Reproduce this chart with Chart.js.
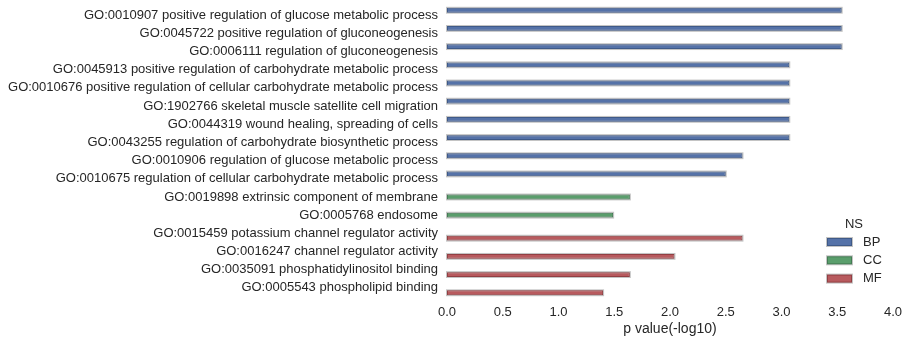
<!DOCTYPE html>
<html>
<head>
<meta charset="utf-8">
<script src="https://cdn.jsdelivr.net/npm/chart.js@4/dist/chart.umd.min.js"></script>
<style>
  html, body { margin: 0; padding: 0; background: #fff; }
  #wrap { width: 910px; height: 345px; }
</style>
</head>
<body>
<div id="wrap"><canvas id="go-chart"></canvas></div>
<script>
// GO terms, top to bottom
const terms = [
    'GO:0010907 positive regulation of glucose metabolic process',
    'GO:0045722 positive regulation of gluconeogenesis',
    'GO:0006111 regulation of gluconeogenesis',
    'GO:0045913 positive regulation of carbohydrate metabolic process',
    'GO:0010676 positive regulation of cellular carbohydrate metabolic process',
    'GO:1902766 skeletal muscle satellite cell migration',
    'GO:0044319 wound healing, spreading of cells',
    'GO:0043255 regulation of carbohydrate biosynthetic process',
    'GO:0010906 regulation of glucose metabolic process',
    'GO:0010675 regulation of cellular carbohydrate metabolic process',
    'GO:0019898 extrinsic component of membrane',
    'GO:0005768 endosome',
    'GO:0015459 potassium channel regulator activity',
    'GO:0016247 channel regulator activity',
    'GO:0035091 phosphatidylinositol binding',
    'GO:0005543 phospholipid binding'
];

// namespace of each term
const termNs = ['BP', 'BP', 'BP', 'BP', 'BP', 'BP', 'BP', 'BP', 'BP', 'BP',
                'CC', 'CC', 'MF', 'MF', 'MF', 'MF'];

// -log10(p)
const pValues = [3.54, 3.54, 3.54, 3.07, 3.07, 3.07, 3.07, 3.07, 2.65, 2.50,
                 1.64, 1.49, 2.65, 2.04, 1.64, 1.40];

const namespaces = ['BP', 'CC', 'MF'];
const nsColors = ['#5572a8', '#5a9e6c', '#b85a5e'];
const nsEdges = ['#3f5a88', '#447c54', '#923f43'];

const xTicks = [0, 0.5, 1, 1.5, 2, 2.5, 3, 3.5, 4];

const fontFamily = '"Liberation Sans", Arial, sans-serif';
const textColor = '#262626';
const haloColor = '#c4c4c4';

// one dataset per namespace, empty slots left as null so the bars keep their hue offset
const datasets = namespaces.map((ns, i) => ({
    label: ns,
    data: pValues.map((v, j) => termNs[j] === ns ? v : null),
    backgroundColor: nsColors[i],
    borderColor: nsEdges[i],
    borderWidth: 1,
    borderSkipped: false,
    categoryPercentage: 0.8,
    barPercentage: 1.0
}));

// light grey outline behind each bar
const barHalo = {
    id: 'barHalo',
    beforeDatasetsDraw(chart) {
        const ctx = chart.ctx;
        ctx.save();
        ctx.fillStyle = haloColor;
        chart.data.datasets.forEach((ds, i) => {
            chart.getDatasetMeta(i).data.forEach((bar, j) => {
                if (ds.data[j] == null) return;
                const p = bar.getProps(['x', 'y', 'base', 'height'], true);
                const top = p.y - p.height / 2;
                ctx.fillRect(p.base - 1, top - 1, p.x - p.base + 2, p.height + 2);
            });
        });
        ctx.restore();
    }
};

// legend drawn inside the plot, lower right
const nsLegend = {
    id: 'nsLegend',
    afterDraw(chart) {
        const ctx = chart.ctx;
        ctx.save();
        ctx.font = '13px ' + fontFamily;
        ctx.fillStyle = textColor;
        ctx.textBaseline = 'middle';
        ctx.textAlign = 'center';
        ctx.fillText('NS', 854, 224);
        ctx.textAlign = 'left';
        chart.data.datasets.forEach((ds, i) => {
            const y = 242 + i * 18.3;
            ctx.fillStyle = haloColor;
            ctx.fillRect(826, y - 5, 27, 10);
            ctx.fillStyle = ds.borderColor;
            ctx.fillRect(827, y - 4, 25, 8);
            ctx.fillStyle = ds.backgroundColor;
            ctx.fillRect(828, y - 3, 23, 6);
            ctx.fillStyle = textColor;
            ctx.fillText(ds.label, 863, y);
        });
        ctx.restore();
    }
};

function setupChart() {
    const canvas = document.getElementById('go-chart');
    const config = {
        type: 'bar',
        data: {
            labels: terms,
            datasets: datasets
        },
        options: {
            indexAxis: 'y',
            responsive: true,
            maintainAspectRatio: false,
            animation: false,
            layout: {
                padding: { top: 6, right: 15, bottom: 0, left: 0 }
            },
            plugins: {
                legend: { display: false },
                tooltip: { enabled: false }
            },
            scales: {
                x: {
                    type: 'linear',
                    min: 0,
                    max: 4,
                    afterBuildTicks: (scale) => {
                        scale.ticks = xTicks.map(v => ({ value: v }));
                    },
                    grid: { display: false, drawTicks: false },
                    border: { display: false },
                    ticks: {
                        color: textColor,
                        font: { family: fontFamily, size: 13 },
                        padding: 8,
                        callback: (v) => Number(v).toFixed(1)
                    },
                    title: {
                        display: true,
                        text: 'p value(-log10)',
                        color: textColor,
                        font: { family: fontFamily, size: 14 },
                        padding: { top: 2, bottom: 7 }
                    },
                    afterFit: (scale) => { scale.height = 48; }
                },
                y: {
                    grid: { display: false, drawTicks: false },
                    border: { display: false },
                    ticks: {
                        color: textColor,
                        font: { family: fontFamily, size: 13 },
                        padding: 9,
                        autoSkip: false
                    },
                    afterFit: (scale) => {
                        scale.width = 447;
                        scale.paddingTop = 0;
                        scale.paddingBottom = 0;
                    }
                }
            }
        },
        plugins: [barHalo, nsLegend]
    };
    return new Chart(canvas.getContext('2d'), config);
}

const goChart = setupChart();
</script>
</body>
</html>
